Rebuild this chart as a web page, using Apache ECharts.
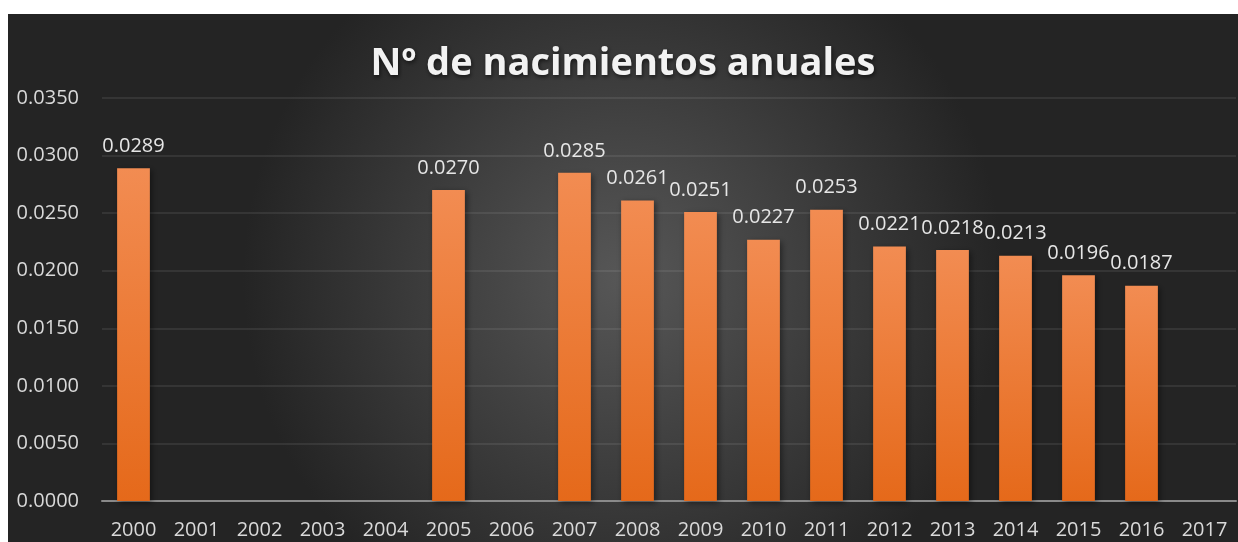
<!DOCTYPE html>
<html>
<head>
<meta charset="utf-8">
<script src="https://cdn.jsdelivr.net/npm/echarts@6/dist/echarts.min.js"></script>
<style>
html,body{margin:0;padding:0;background:#fff;}
#chart{position:absolute;left:8px;top:14px;width:1230px;height:528px;}
</style>
</head>
<body>
<div id="chart"></div>
<script>
const categories = ['2000','2001','2002','2003','2004','2005','2006','2007','2008','2009','2010','2011','2012','2013','2014','2015','2016','2017'];
const values = [0.0289, null, null, null, null, 0.0270, null, 0.0285, 0.0261, 0.0251, 0.0227, 0.0253, 0.0221, 0.0218, 0.0213, 0.0196, 0.0187, null];
const titleText = 'Nº de nacimientos anuales';

const chart = echarts.init(document.getElementById('chart'));
chart.setOption({
  backgroundColor: new echarts.graphic.RadialGradient(0.5, 0.5, 0.72, [
    {offset: 0, color: '#575757'},
    {offset: 1, color: '#242424'}
  ]),
  title: {
    text: titleText,
    left: 'center',
    top: 26,
    textStyle: {
      fontFamily: 'Open Sans',
      fontWeight: 'bold',
      fontSize: 38,
      color: '#f2f2f2',
      textShadowColor: 'rgba(0,0,0,0.6)',
      textShadowBlur: 4,
      textShadowOffsetX: 1,
      textShadowOffsetY: 2
    }
  },
  grid: {left: 94, right: 2, top: 84, bottom: 41, containLabel: false},
  xAxis: {
    type: 'category',
    data: categories,
    axisLine: {show: true, lineStyle: {color: '#8a8a8a', width: 2}},
    axisTick: {show: false},
    axisLabel: {color: '#d9d9d9', fontFamily: 'Open Sans', fontSize: 20, margin: 19}
  },
  yAxis: {
    type: 'value',
    min: 0,
    max: 0.035,
    interval: 0.005,
    axisLine: {show: false},
    axisTick: {show: false},
    splitLine: {lineStyle: {color: 'rgba(255,255,255,0.08)', width: 2}},
    axisLabel: {
      color: '#d9d9d9', fontFamily: 'Open Sans', fontSize: 20, margin: 23,
      formatter: v => v.toFixed(4)
    }
  },
  series: [{
    type: 'bar',
    data: values,
    barWidth: '52%',
    itemStyle: {
      color: new echarts.graphic.LinearGradient(0, 0, 0, 1, [
        {offset: 0, color: '#f28c52'},
        {offset: 1, color: '#e5691a'}
      ]),
      shadowColor: 'rgba(0,0,0,0.45)',
      shadowBlur: 6,
      shadowOffsetX: 2,
      shadowOffsetY: 2
    },
    label: {
      show: true,
      position: 'top',
      distance: 12,
      color: '#e6e6e6',
      fontFamily: 'Open Sans',
      fontSize: 20,
      formatter: p => p.value == null ? '' : p.value.toFixed(4)
    }
  }]
});
</script>
</body>
</html>
